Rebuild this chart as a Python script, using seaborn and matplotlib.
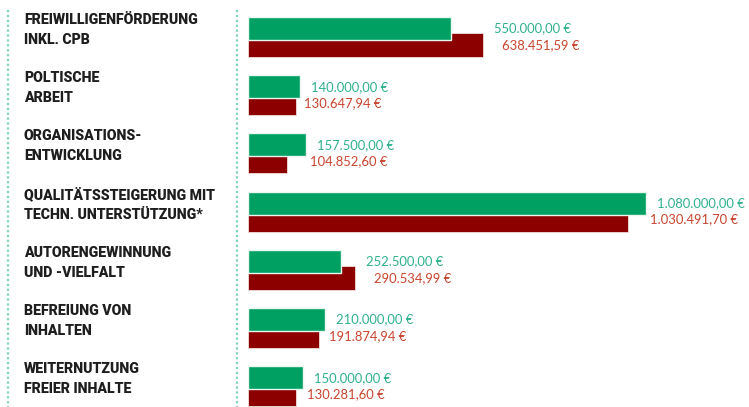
import matplotlib
matplotlib.use("Agg")
import matplotlib.pyplot as plt
import seaborn as sns
import pandas as pd
import numpy as np
from matplotlib.lines import Line2D

categories = [
    "FREIWILLIGENFÖRDERUNG\nINKL. CPB",
    "POLTISCHE\nARBEIT",
    "ORGANISATIONS-\nENTWICKLUNG",
    "QUALITÄTSSTEIGERUNG MIT\nTECHN. UNTERSTÜTZUNG*",
    "AUTORENGEWINNUNG\nUND -VIELFALT",
    "BEFREIUNG VON\nINHALTEN",
    "WEITERNUTZUNG\nFREIER INHALTE",
]
planned = [550000.00, 140000.00, 157500.00, 1080000.00, 252500.00, 210000.00, 150000.00]
actual = [638451.59, 130647.94, 104852.60, 1030491.70, 290534.99, 191874.94, 130281.60]

GREEN = "#00a063"
RED = "#8c0000"
GREEN_TXT = "#2fb08d"
RED_TXT = "#c8442e"
DOT = "#7fd3bd"

sns.set_theme(style="white")
plt.rcParams['font.family'] = ['DejaVu Sans']

W, H = 749, 407
fig = plt.figure(figsize=(W / 100, H / 100), dpi=100)

x0 = 248
px_per_unit = 398 / 1080000.0
xmax = (W - x0) / px_per_unit
spacing = 58.2
top_off = 28.5
ylim_top = -top_off / spacing
ylim_bot = (H - top_off) / spacing

ax = fig.add_axes([x0 / W, 0, (W - x0) / W, 1])

idx = np.arange(len(categories))
red_off = 16.5 / spacing
df_r = pd.DataFrame({"pos": idx + red_off, "val": actual})
df_g = pd.DataFrame({"pos": idx.astype(float), "val": planned})

sns.barplot(data=df_r, x="val", y="pos", orient="h", native_scale=True,
            width=24 / spacing, color=RED, saturation=1, edgecolor="#f3dcdc",
            linewidth=0.6, ax=ax)
sns.barplot(data=df_g, x="val", y="pos", orient="h", native_scale=True,
            width=23 / spacing, color=GREEN, saturation=1, edgecolor="#e8f7f0",
            linewidth=1.0, ax=ax)

ax.set_xlim(0, xmax)
ax.set_ylim(ylim_bot, ylim_top)
ax.axis("off")


def fmt(v):
    s = f"{v:,.2f}"
    s = s.replace(",", "X").replace(".", ",").replace("X", ".")
    return s + " €"


lab_font = ['Lato', 'DejaVu Sans']
for i, (g, r) in enumerate(zip(planned, actual)):
    m = max(g, r)
    xt = m + 11 / px_per_unit
    ax.text(xt, i, fmt(g), color=GREEN_TXT, fontsize=9.4, va="center", ha="left",
            family=lab_font)
    shift = 8 if r > g else -7
    ax.text(xt + shift / px_per_unit, i + red_off, fmt(r), color=RED_TXT, fontsize=9.4,
            va="center", ha="left", family=lab_font)

# overlay for category labels and dotted rules
ov = fig.add_axes([0, 0, 1, 1], zorder=-1)
ov.set_xlim(0, W)
ov.set_ylim(H, 0)
ov.axis("off")
for xv in (8, 237):
    ov.add_line(Line2D([xv, xv], [10, H], color=DOT, linestyle=(0, (1, 1.2)), linewidth=1.6))

cat_font = ['Roboto', 'DejaVu Sans']
for i, c in enumerate(categories):
    yc = top_off + i * spacing + 1.5
    ov.text(24, yc, c, fontsize=10.2, fontweight="black", color="#1e1e1e",
            va="center", ha="left", family=cat_font, linespacing=1.55)

fig.savefig("out.png", dpi=100)
